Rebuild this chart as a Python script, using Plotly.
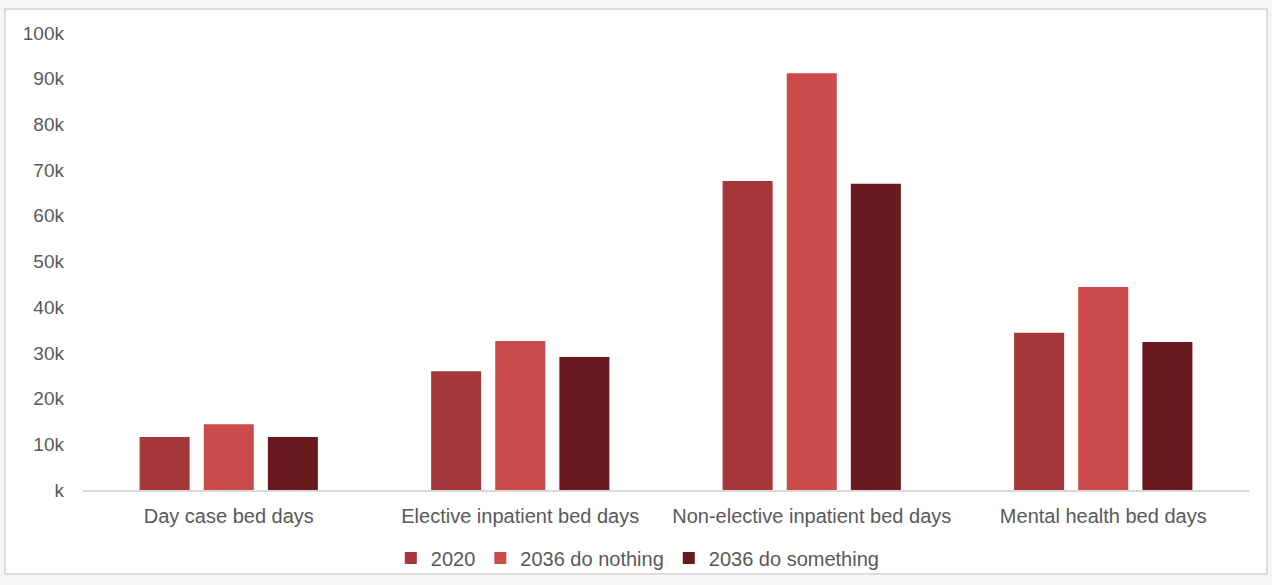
import plotly.graph_objects as go

# Bed days by category, baseline year versus two 2036 scenarios
categories = ["Day case bed days", "Elective inpatient bed days",
              "Non-elective inpatient bed days", "Mental health bed days"]
series_names = ["2020", "2036 do nothing", "2036 do something"]
beds_2020 = [11600, 26000, 67600, 34400]
beds_2036_nothing = [14400, 32600, 91200, 44400]
beds_2036_something = [11600, 29100, 67000, 32400]
y_tick_vals = [0, 10000, 20000, 30000, 40000, 50000, 60000, 70000, 80000, 90000, 100000]
y_tick_labels = ["k", "10k", "20k", "30k", "40k", "50k", "60k", "70k", "80k", "90k", "100k"]

colors = ["#A5363A", "#CB4B4A", "#6A1A1F"]
text_color = "#595959"
font_family = "Liberation Sans, Arial, sans-serif"

fig = go.Figure()
for name, values, color in zip(series_names,
                               [beds_2020, beds_2036_nothing, beds_2036_something],
                               colors):
    fig.add_trace(go.Bar(x=categories, y=values, name=name,
                         marker=dict(color=color, line=dict(width=0))))

# outer frame around the chart area
fig.add_shape(type="rect", xref="paper", yref="paper",
              x0=-0.0669, x1=1.0154, y0=-0.1838, y1=1.0525,
              line=dict(color="#d4d4d4", width=1.5), fillcolor="white", layer="below")

fig.update_layout(
    width=1272, height=585,
    margin=dict(l=83, r=23, t=33, b=95, autoexpand=False),
    paper_bgcolor="#f6f6f6",
    plot_bgcolor="rgba(0,0,0,0)",
    barmode="group",
    bargap=0.34,
    bargroupgap=0.22,
    font=dict(family=font_family, size=19, color=text_color),
    showlegend=True,
    legend=dict(orientation="h", x=0.264, xanchor="left",
                yref="container", y=0.046, yanchor="middle",
                font=dict(size=20, color=text_color), itemwidth=30,
                bgcolor="rgba(0,0,0,0)", traceorder="normal"),
    xaxis=dict(showline=True, linecolor="#d9d9d9", linewidth=1.5, ticks="",
               tickfont=dict(size=20, color=text_color), showgrid=False,
               ticklabelstandoff=7, automargin=False),
    yaxis=dict(range=[0, 100000], tickvals=y_tick_vals, ticktext=y_tick_labels,
               showgrid=False, zeroline=False, showline=False, ticks="",
               tickfont=dict(size=19, color=text_color), ticklabelstandoff=18,
               automargin=False),
)

fig.write_html("out.html")
